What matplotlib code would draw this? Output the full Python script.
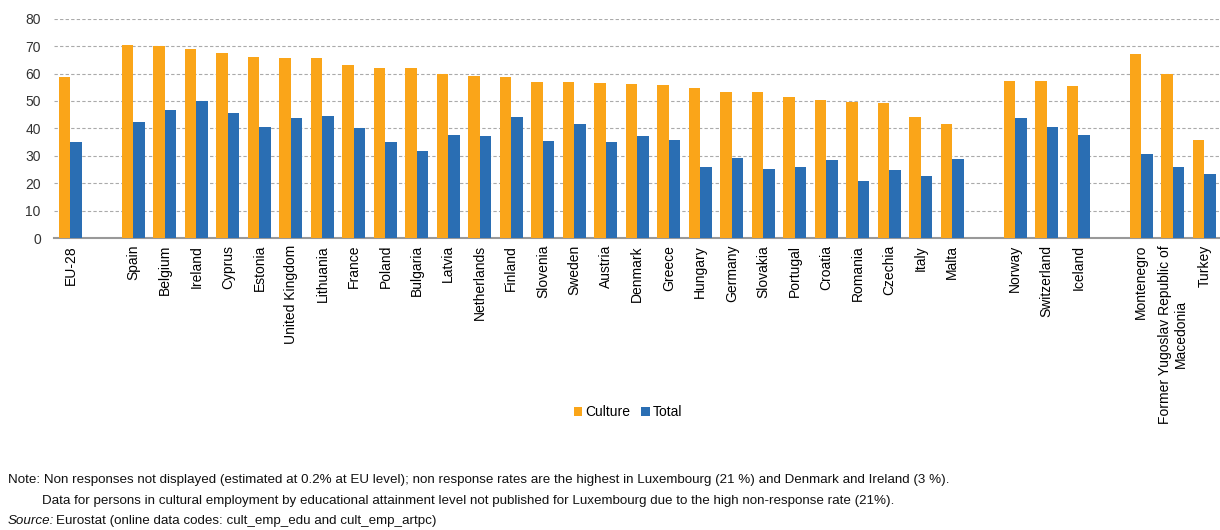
import numpy as np
import matplotlib.pyplot as plt

plt.rcParams['font.family'] = ['Liberation Sans', 'DejaVu Sans']

# categories in display order; None marks an empty gap slot
countries = [
    'EU-28', None,
    'Spain', 'Belgium', 'Ireland', 'Cyprus', 'Estonia', 'United Kingdom',
    'Lithuania', 'France', 'Poland', 'Bulgaria', 'Latvia', 'Netherlands',
    'Finland', 'Slovenia', 'Sweden', 'Austria', 'Denmark', 'Greece',
    'Hungary', 'Germany', 'Slovakia', 'Portugal', 'Croatia', 'Romania',
    'Czechia', 'Italy', 'Malta', None,
    'Norway', 'Switzerland', 'Iceland', None,
    'Montenegro', 'Former Yugoslav Republic of\nMacedonia', 'Turkey',
]

culture = [
    58.7, None,
    70.4, 69.9, 69.0, 67.6, 66.2, 65.7,
    65.5, 63.2, 62.0, 62.0, 59.8, 59.2,
    58.6, 56.9, 56.9, 56.4, 56.2, 55.9,
    54.6, 53.1, 53.1, 51.6, 50.3, 49.5,
    49.1, 44.3, 41.5, None,
    57.4, 57.4, 55.5, None,
    67.2, 59.7, 35.9,
]

total = [
    34.9, None,
    42.4, 46.6, 50.0, 45.7, 40.5, 43.9,
    44.6, 40.1, 34.9, 31.6, 37.6, 37.2,
    44.3, 35.4, 41.5, 35.1, 37.2, 35.9,
    26.0, 29.3, 25.0, 26.0, 28.3, 20.9,
    24.7, 22.7, 28.8, None,
    43.8, 40.5, 37.6, None,
    30.5, 26.0, 23.2,
]

orange = '#FAA519'
blue = '#2A6EB3'

x = np.arange(len(countries))
idx = [i for i, c in enumerate(countries) if c is not None]
cult = np.array([culture[i] for i in idx])
tot = np.array([total[i] for i in idx])
xs = x[idx]

fig = plt.figure(figsize=(12.2, 5.3), dpi=100)
ax = fig.add_axes([0.0443, 0.5509, 0.9557, 0.4138])

w = 0.365
ax.bar(xs - w / 2, cult, w, color=orange, label='Culture', zorder=3)
ax.bar(xs + w / 2, tot, w, color=blue, label='Total', zorder=3)

ax.set_xlim(-0.52, 36.5)
ax.set_ylim(0, 80)
ax.set_yticks(range(0, 81, 10))
ax.yaxis.grid(True, color='#AAAAAA', linestyle=(0, (3, 2)), linewidth=0.8, zorder=0)
ax.tick_params(axis='y', length=0, labelsize=10, colors='#333333', pad=9.5)

ax.set_xticks(xs)
ax.set_xticklabels([countries[i] for i in idx], rotation=90, fontsize=10,
                   va='top', ha='center', multialignment='center')
ax.tick_params(axis='x', length=0, pad=5)

for s in ['left', 'right', 'top']:
    ax.spines[s].set_visible(False)
ax.spines['bottom'].set_color('#999999')
ax.spines['bottom'].set_linewidth(1.5)

fig.legend(loc='center', bbox_to_anchor=(628 / 1220, 1 - 412 / 530), ncol=2,
           frameon=False, fontsize=10, handlelength=0.6, handleheight=0.6,
           handletextpad=0.2, columnspacing=0.8)

note_fs = 9.6
fig.text(8 / 1220, 1 - 480 / 530,
         'Note: Non responses not displayed (estimated at 0.2% at EU level); non response rates are the highest in '
         'Luxembourg (21 %) and Denmark and Ireland (3 %).',
         fontsize=note_fs, va='center', color='#111111')
fig.text(42 / 1220, 1 - 501 / 530,
         'Data for persons in cultural employment by educational attainment level not published for Luxembourg '
         'due to the high non-response rate (21%).',
         fontsize=note_fs, va='center', color='#111111')
fig.text(8 / 1220, 1 - 521 / 530, 'Source:', fontsize=note_fs, va='center',
         style='italic', color='#111111')
fig.text(56 / 1220, 1 - 521 / 530,
         'Eurostat (online data codes: cult_emp_edu and cult_emp_artpc)',
         fontsize=note_fs, va='center', color='#111111')

fig.savefig('out.png', dpi=100)
